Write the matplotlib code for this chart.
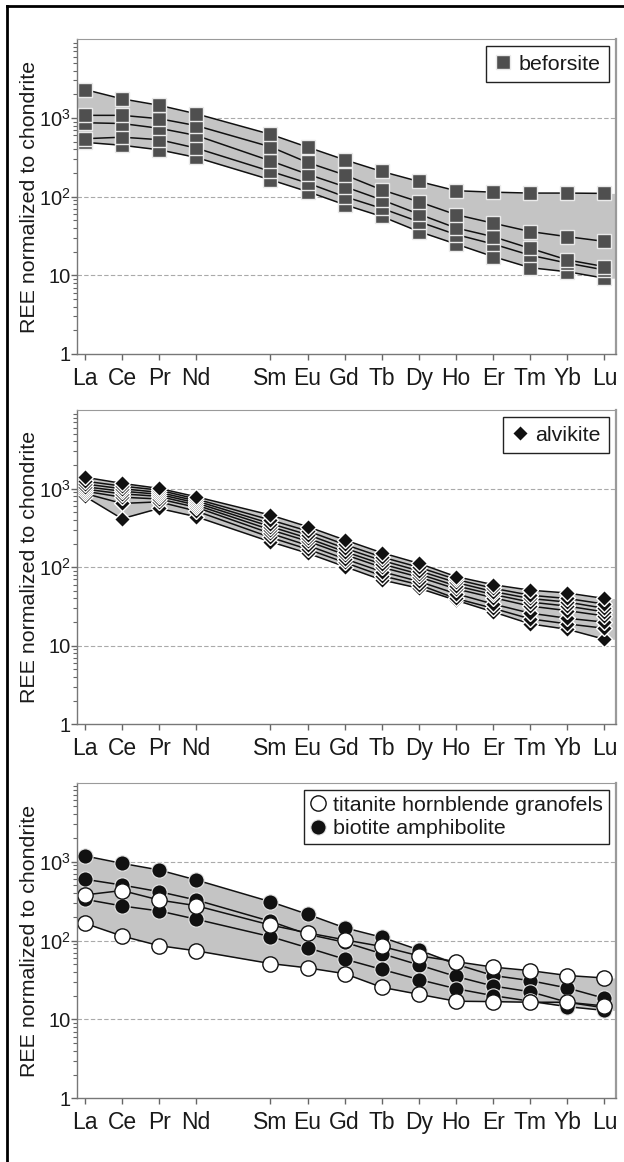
import numpy as np
import matplotlib
matplotlib.use('Agg')
import matplotlib.pyplot as plt
from matplotlib.lines import Line2D
from matplotlib.ticker import FixedLocator, LogLocator, NullFormatter

# REE order, Pm left out (gap between Nd and Sm)
elements = ['La', 'Ce', 'Pr', 'Nd', 'Sm', 'Eu', 'Gd', 'Tb', 'Dy', 'Ho', 'Er', 'Tm', 'Yb', 'Lu']
positions = [0, 1, 2, 3, 5, 6, 7, 8, 9, 10, 11, 12, 13, 14]
ytick_vals = [1, 10, 100, 1000]
ytick_labels = ['1', '10', '10$^2$', '10$^3$']

# beforsite
bef_1 = [2300, 1750, 1450, 1130, 620, 426, 294, 209, 156, 119, 114, 111, 111, 110]
bef_2 = [1080, 1080, 980, 800, 430, 272, 189, 122, 86, 59, 46, 36, 31, 27]
bef_3 = [870, 850, 740, 600, 285, 193, 134, 91, 60, 40, 31, 22, 15.7, 12.9]
bef_4 = [545, 570, 530, 414, 210, 149, 100, 71, 48, 33, 25, 18, 14.3, 11.7]
bef_5 = [490, 450, 394, 315, 164, 116, 79, 56, 36, 25, 17.3, 12.5, 11.1, 9.2]

# alvikite
alv_1 = [1400, 1170, 1010, 790, 462, 329, 223, 153, 112, 76, 60, 51, 47, 40]
alv_2 = [1250, 1080, 960, 740, 400, 290, 195, 135, 100, 70, 54, 44, 40, 34]
alv_3 = [1150, 1000, 900, 700, 360, 260, 175, 122, 90, 64, 49, 40, 36, 30]
alv_4 = [1060, 930, 850, 660, 330, 235, 158, 110, 82, 58, 45, 36, 32, 27]
alv_5 = [990, 860, 800, 620, 300, 215, 145, 100, 75, 53, 41, 32, 28, 24]
alv_6 = [930, 780, 740, 580, 270, 190, 128, 88, 66, 46, 34, 26, 22.4, 20]
alv_7 = [870, 650, 680, 520, 240, 170, 115, 78, 60, 40, 30, 22, 19, 16.7]
alv_8 = [800, 415, 561, 440, 211, 151, 102, 69, 54, 38, 27, 19, 16.2, 12.1]

# biotite amphibolite
amph_1 = [1180, 950, 783, 585, 310, 215, 145, 110, 76, 50, 36, 31, 25, 18.5]
amph_2 = [597, 505, 416, 326, 175, 120, 95, 68, 49, 35, 26.5, 22.4, 16.5, 14]
amph_3 = [333, 274, 237, 186, 112, 81, 58, 43, 32, 24.5, 20, 17, 14.5, 13]

# titanite hornblende granofels
gran_1 = [378, 430, 326, 276, 157, 125, 102, 84, 64, 54, 46, 41.5, 36, 33.5]
gran_2 = [165, 114, 86, 74, 51, 45, 38, 25.5, 20.8, 17, 16.8, 16.5, 16.5, 14.8]

plt.rcParams['font.family'] = ['Liberation Sans', 'DejaVu Sans']
plt.rcParams['mathtext.fontset'] = 'custom'
plt.rcParams['mathtext.rm'] = 'Liberation Sans'
plt.rcParams['mathtext.it'] = 'Liberation Sans:italic'
plt.rcParams['font.size'] = 15.4
plt.rcParams['text.color'] = '#1a1a1a'
plt.rcParams['xtick.color'] = '#666666'
plt.rcParams['ytick.color'] = '#666666'
plt.rcParams['xtick.labelcolor'] = '#1a1a1a'
plt.rcParams['ytick.labelcolor'] = '#1a1a1a'

W, H = 624, 1162
XLIM = (-0.22, 14.31)
fig = plt.figure(figsize=(W / 100, H / 100), dpi=100)


def make_axes(top, bottom):
    left, right = 76.7, 616
    ax = fig.add_axes([left / W, 1 - bottom / H, (right - left) / W, (bottom - top) / H])
    ax.set_yscale('log')
    ax.set_ylim(1, 1e4)
    ax.set_xlim(*XLIM)
    ax.set_xticks(positions)
    ax.set_xticklabels(elements, fontsize=16.5)
    ax.yaxis.set_major_locator(FixedLocator(ytick_vals))
    ax.set_yticklabels(ytick_labels, fontsize=14.5)
    ax.yaxis.set_minor_locator(LogLocator(base=10, subs=np.arange(2, 10)))
    ax.yaxis.set_minor_formatter(NullFormatter())
    ax.tick_params(axis='y', which='major', direction='out', length=4, width=1, pad=0.3)
    ax.tick_params(axis='y', which='minor', direction='out', length=3, width=0.8)
    ax.tick_params(axis='x', direction='out', length=4.2, width=1, pad=5.0)
    for s in ['left', 'bottom']:
        ax.spines[s].set_color('#777777')
        ax.spines[s].set_linewidth(1)
    ax.spines['top'].set_color('#9a9a9a')
    ax.spines['top'].set_linewidth(0.8)
    ax.spines['right'].set_color('#9a9a9a')
    ax.spines['right'].set_linewidth(1.6)
    for gy in ytick_vals[1:]:
        ax.axhline(gy, color='#aaaaaa', lw=0.8, ls=(0, (4, 2)), zorder=0.5)
    fig.text(30 / W, 1 - (top + bottom) / 2 / H, 'REE normalized to chondrite',
             rotation=90, ha='center', va='center', fontsize=15.4)
    return ax


def draw_band(ax, samples):
    arr = np.array(samples, dtype=float)
    hi = arr.max(axis=0)
    lo = arr.min(axis=0)
    xs = [XLIM[0]] + positions + [XLIM[1]]
    hi = np.r_[hi[0], hi, hi[-1]]
    lo = np.r_[lo[0], lo, lo[-1]]
    ax.fill_between(xs, lo, hi, color='#c4c4c4', lw=0, zorder=1)


def legend(ax, handles, labels, bpad, fs=15.4, lspace=0.05):
    leg = ax.legend(handles, labels, loc='upper right', frameon=True, fancybox=False,
                    edgecolor='#222222', framealpha=1, borderaxespad=0.33, fontsize=fs,
                    handlelength=0.8, handletextpad=0.3, borderpad=bpad, labelspacing=lspace)
    leg.get_frame().set_linewidth(1)
    leg.set_zorder(10)


# panel 1: beforsite
ax1 = make_axes(39.3, 354)
bef = [bef_1, bef_2, bef_3, bef_4, bef_5]
draw_band(ax1, bef)
sq = dict(marker='s', ms=10, mfc='#4f4f4f', mec='#eaeaea', mew=1)
for s in bef[::-1]:
    ax1.plot(positions, s, color='#111111', lw=1.1, zorder=2, **sq)
legend(ax1, [Line2D([], [], ls='none', **sq)], ['beforsite'], 0.4)

# panel 2: alvikite
ax2 = make_axes(410.2, 724.3)
alv = [alv_1, alv_2, alv_3, alv_4, alv_5, alv_6, alv_7, alv_8]
draw_band(ax2, alv)
dm = dict(marker='D', ms=8, mfc='#111111', mec='white', mew=1)
for s in alv[::-1]:
    ax2.plot(positions, s, color='#111111', lw=1.1, zorder=2, **dm)
legend(ax2, [Line2D([], [], ls='none', **dm)], ['alvikite'], 0.4)

# panel 3: granofels and amphibolite
ax3 = make_axes(782.7, 1098.3)
amph = [amph_1, amph_2, amph_3]
gran = [gran_1, gran_2]
draw_band(ax3, amph + gran)
bc = dict(marker='o', ms=11, mfc='#111111', mec='#e8e8e8', mew=0.8)
wc = dict(marker='o', ms=11, mfc='white', mec='#111111', mew=1)
for s in amph:
    ax3.plot(positions, s, color='#111111', lw=1.1, zorder=2, **bc)
for s in gran:
    ax3.plot(positions, s, color='#111111', lw=1.1, zorder=2, **wc)
legend(ax3, [Line2D([], [], ls='none', **wc), Line2D([], [], ls='none', **bc)],
       ['titanite hornblende granofels', 'biotite amphibolite'], 0.28, lspace=0.2)

# outer frame (top and left only)
fig.add_artist(Line2D([7 / W, 1], [1 - 6 / H, 1 - 6 / H], color='black', lw=2,
                      transform=fig.transFigure))
fig.add_artist(Line2D([7 / W, 7 / W], [0, 1 - 6 / H], color='black', lw=2,
                      transform=fig.transFigure))

fig.savefig('out.png', dpi=100)
